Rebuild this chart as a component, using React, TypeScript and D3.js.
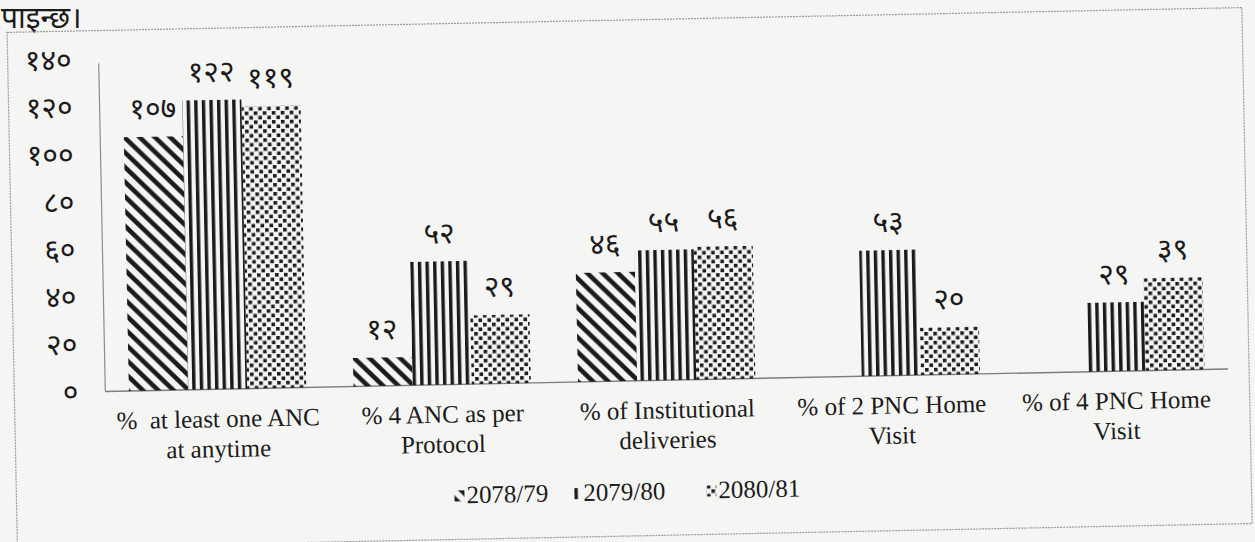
import { useEffect, useRef } from "react";
import * as d3 from "d3";

// values
const categories = [
  "%  at least one ANC|at anytime",
  "% 4 ANC as per|Protocol",
  "% of Institutional|deliveries",
  "% of 2 PNC Home|Visit",
  "% of 4 PNC Home|Visit",
];
const seriesNames = ["2078/79", "2079/80", "2080/81"];
const fy7879 = [107, 12, 46, null, null];
const fy7980 = [122, 52, 55, 53, 29];
const fy8081 = [119, 29, 56, 20, 39];
const yTicks = [0, 20, 40, 60, 80, 100, 120, 140];

const DEV = "०१२३४५६७८९";
const toDev = (n: number) => String(n).replace(/\d/g, (d) => DEV[+d]);

const SERIF = "'Liberation Serif', 'Times New Roman', serif";
const DEVFONT = "'Noto Sans Devanagari', 'Lohit Devanagari', 'FreeSans', 'Mangal', sans-serif";
const INK = "#1b1b1b";

export default function App() {
  const ref = useRef<SVGSVGElement>(null);

  useEffect(() => {
    const el = ref.current;
    if (!el) return;
    const W = 1255, H = 542;
    const svg = d3.select(el).attr("width", W).attr("height", H).attr("viewBox", `0 0 ${W} ${H}`);
    svg.selectAll("*").remove();

    const defs = svg.append("defs");
    const pid = ["pDiag", "pVert", "pDots"];
    // \\\ stripes
    defs.append("pattern").attr("id", pid[0]).attr("patternUnits", "userSpaceOnUse").attr("width", 15).attr("height", 15)
      .append("path").attr("d", "M-4,-4L19,19M-4,11L4,19M11,-4L19,4").attr("stroke", INK).attr("stroke-width", 4.6);
    // ||| stripes
    defs.append("pattern").attr("id", pid[1]).attr("patternUnits", "userSpaceOnUse").attr("width", 7.6).attr("height", 10)
      .append("rect").attr("x", 0).attr("y", 0).attr("width", 3.4).attr("height", 10).attr("fill", INK);
    // confetti dots
    const pd = defs.append("pattern").attr("id", pid[2]).attr("patternUnits", "userSpaceOnUse").attr("width", 9).attr("height", 9);
    pd.append("rect").attr("x", 0.5).attr("y", 0.5).attr("width", 3.6).attr("height", 3.6).attr("fill", INK);
    pd.append("rect").attr("x", 5).attr("y", 5).attr("width", 3.6).attr("height", 3.6).attr("fill", INK);

    svg.append("rect").attr("width", W).attr("height", H).attr("fill", "#f5f5f3");

    svg.append("text").attr("x", 1).attr("y", 28).attr("font-family", DEVFONT).attr("font-size", 30)
      .attr("fill", INK).text("पाइन्छ।");

    // the page was scanned slightly tilted
    const g = svg.append("g").attr("transform", "rotate(-1.15 627 271)");

    g.append("rect").attr("x", 12).attr("y", 20).attr("width", 1235).attr("height", 516)
      .attr("fill", "none").attr("stroke", "#9a9a9a").attr("stroke-width", 1.2).attr("stroke-dasharray", "2,1");

    const M = { left: 103, right: 1226, top: 49, bottom: 381 };
    const x0 = d3.scaleBand<number>().domain(d3.range(categories.length)).range([M.left, M.right]).paddingInner(0.21).paddingOuter(0.105);
    const x1 = d3.scaleBand<number>().domain(d3.range(seriesNames.length)).range([0, x0.bandwidth()]).padding(0);
    const y = d3.scaleLinear().domain([0, 140]).range([M.bottom, M.top]);

    // axis lines
    g.append("line").attr("x1", M.left).attr("x2", M.left).attr("y1", M.top + 4).attr("y2", M.bottom)
      .attr("stroke", "#8c8c8c").attr("stroke-width", 1.2);
    g.append("line").attr("x1", M.left).attr("x2", M.right).attr("y1", M.bottom).attr("y2", M.bottom)
      .attr("stroke", "#7d7d7d").attr("stroke-width", 1.4);

    g.append("g").selectAll("text").data(yTicks).join("text")
      .attr("x", 76).attr("y", (d) => y(d) + 10).attr("text-anchor", "end")
      .attr("font-family", DEVFONT).attr("font-size", 30).attr("fill", INK).text((d) => toDev(d));

    const series = [fy7879, fy7980, fy8081];
    const bars = series.flatMap((vals, s) =>
      vals.map((v, c) => ({ s, c, v })).filter((d) => d.v != null) as { s: number; c: number; v: number }[]);

    g.append("g").selectAll("rect").data(bars).join("rect")
      .attr("x", (d) => (x0(d.c) ?? 0) + (x1(d.s) ?? 0)).attr("width", x1.bandwidth())
      .attr("y", (d) => y(d.v)).attr("height", (d) => y(0) - y(d.v))
      .attr("fill", (d) => `url(#${pid[d.s]})`);

    g.append("g").selectAll("text").data(bars).join("text")
      .attr("x", (d) => (x0(d.c) ?? 0) + (x1(d.s) ?? 0) + x1.bandwidth() / 2).attr("y", (d) => y(d.v) - 18)
      .attr("text-anchor", "middle").attr("font-family", DEVFONT).attr("font-size", 30).attr("fill", INK)
      .text((d) => toDev(d.v));

    // category labels
    const cat = g.append("g").selectAll("text").data(categories).join("text")
      .attr("text-anchor", "middle").attr("font-family", SERIF).attr("font-size", 25).attr("fill", INK)
      .attr("xml:space", "preserve");
    cat.selectAll("tspan").data((d, i) => d.split("|").map((t) => ({ t, i }))).join("tspan")
      .attr("x", (d) => (x0(d.i) ?? 0) + x0.bandwidth() / 2).attr("y", (_d, k) => 419 + k * 30).text((d) => d.t);

    // legend
    const lg = g.append("g");
    const lx = [450, 567, 702];
    seriesNames.forEach((n, i) => {
      lg.append("rect").attr("x", lx[i]).attr("y", 487).attr("width", 10).attr("height", 11).attr("fill", `url(#${pid[i]})`);
      lg.append("text").attr("x", lx[i] + 12).attr("y", 500).attr("font-family", SERIF).attr("font-size", 25)
        .attr("fill", INK).text(n);
    });
  }, []);

  return <svg ref={ref} style={{ position: "absolute", left: 0, top: 0 }} role="img" aria-label="ANC and PNC indicators by fiscal year" />;
}
